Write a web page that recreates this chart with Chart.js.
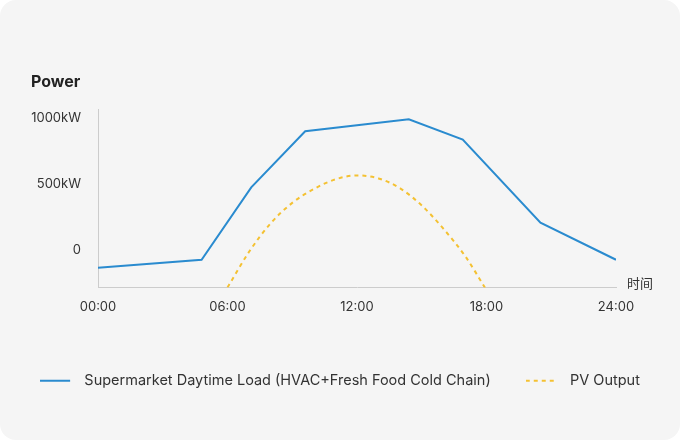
<!DOCTYPE html>
<html>
<head>
<meta charset="utf-8">
<script src="https://cdn.jsdelivr.net/npm/chart.js@4/dist/chart.umd.min.js"></script>
<style>
  html, body { margin: 0; padding: 0; background: #ffffff; }
  #card { position: relative; width: 680px; height: 440px; border-radius: 16px; background: #f5f5f5; overflow: hidden; }
  canvas { display: block; }
</style>
</head>
<body>
<div id="card"><canvas id="c" width="680" height="440"></canvas></div>
<script>
// ---- data ----
const loadHours = [0, 4.8, 7.1, 9.6, 14.4, 16.9, 20.5, 24];
const loadValues = [-130, -70, 477, 902, 992, 839, 210, -70];
const pvHours = [6, 7, 8, 9, 10, 11, 12, 13, 14, 15, 16, 17, 18];
const pvValues = [-280, -10, 205, 360, 465, 538, 568, 545, 470, 340, 165, -40, -300];
const yTickValues = [0, 500, 1000];
const seriesNames = ['Supermarket Daytime Load (HVAC+Fresh Food Cold Chain)', 'PV Output'];
const yAxisName = 'Power';
const xAxisName = '时间';

const FONT = 'Inter, "Noto Sans", sans-serif';
const TEXT = '#333333';
const BLUE = '#2a8bcf';
const YELLOW = '#f4c132';

function legendSwatch(color, dash) {
  const cv = document.createElement('canvas');
  cv.width = 37; cv.height = 14;
  const g = cv.getContext('2d');
  g.strokeStyle = color; g.lineWidth = 2; g.setLineDash(dash);
  g.beginPath(); g.moveTo(0, 7); g.lineTo(30, 7); g.stroke();
  return cv;
}
const swatches = [legendSwatch(BLUE, []), legendSwatch(YELLOW, [4, 4])];

// axis names drawn as canvas text next to the axes
const axisNamePlugin = {
  id: 'axisNames',
  afterDraw(chart) {
    const a = chart.chartArea, ctx = chart.ctx;
    ctx.save();
    ctx.fillStyle = '#222222';
    ctx.font = 'bold 16px ' + FONT;
    ctx.textAlign = 'left';
    ctx.textBaseline = 'middle';
    ctx.fillText(yAxisName, 31, a.top - 27);
    ctx.fillStyle = TEXT;
    ctx.font = '13px "Noto Sans CJK SC", ' + FONT;
    ctx.fillText(xAxisName, a.right + 11, a.bottom - 4);
    ctx.restore();
  }
};

new Chart(document.getElementById('c'), {
  type: 'line',
  data: {
    datasets: [
      {
        label: seriesNames[0],
        data: loadHours.map((h, i) => ({ x: h, y: loadValues[i] })),
        borderColor: BLUE, backgroundColor: BLUE,
        borderWidth: 2, pointRadius: 0, tension: 0, fill: false
      },
      {
        label: seriesNames[1],
        data: pvHours.map((h, i) => ({ x: h, y: pvValues[i] })),
        borderColor: YELLOW, backgroundColor: YELLOW,
        borderWidth: 2, borderDash: [4, 4], pointRadius: 0,
        cubicInterpolationMode: 'monotone', fill: false
      }
    ]
  },
  options: {
    responsive: false,
    animation: false,
    events: [],
    layout: { padding: { left: 0, right: 0, top: 109, bottom: 42 } },
    plugins: {
      title: { display: false },
      legend: {
        position: 'bottom',
        labels: {
          usePointStyle: true, pointStyleWidth: 37, padding: 35,
          color: TEXT, font: { family: FONT, size: 14.5 },
          generateLabels(chart) {
            const items = Chart.defaults.plugins.legend.labels.generateLabels(chart);
            items.forEach((it, i) => { it.pointStyle = swatches[i]; });
            return items;
          }
        }
      },
      tooltip: { enabled: false }
    },
    scales: {
      x: {
        type: 'linear', min: 0, max: 24,
        grid: { display: false, drawTicks: false },
        border: { display: true, color: '#cccccc', width: 1 },
        ticks: {
          stepSize: 6, padding: 12, color: TEXT, font: { family: FONT, size: 13 },
          maxRotation: 0,
          callback: v => String(v).padStart(2, '0') + ':00'
        },
        afterFit(s) { s.height = 51; }
      },
      y: {
        type: 'linear', min: -280, max: 1070,
        grid: { display: false, drawTicks: false },
        border: { display: true, color: '#cccccc', width: 1 },
        ticks: {
          padding: 17, color: TEXT, font: { family: FONT, size: 13 },
          callback: v => v === 0 ? '0' : v + 'kW'
        },
        afterBuildTicks(s) { s.ticks = yTickValues.map(v => ({ value: v })); },
        afterFit(s) { s.width = 98; }
      },
      yRight: {
        type: 'linear', position: 'right', display: true,
        grid: { display: false, drawTicks: false },
        border: { display: false },
        ticks: { display: false },
        afterFit(s) { s.width = 64; }
      }
    }
  },
  plugins: [axisNamePlugin]
});
</script>
</body>
</html>
